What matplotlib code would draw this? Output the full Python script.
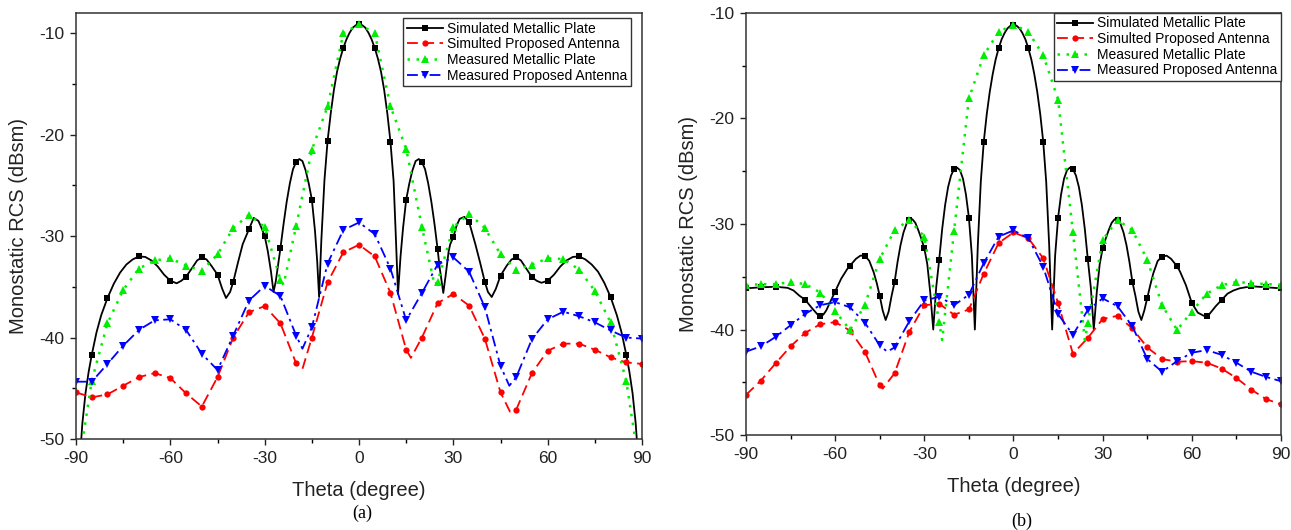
import numpy as np
import matplotlib
matplotlib.use("Agg")
import matplotlib.pyplot as plt
from matplotlib.ticker import MultipleLocator

plt.rcParams['font.family'] = ['Liberation Sans', 'DejaVu Sans']
plt.rcParams['axes.unicode_minus'] = False

# ---------------- Panel (a) ----------------
a_sim_plate_theta = [-89, -88, -87, -86, -85, -83.5, -82, -80, -78, -76, -74, -72, -70, -68, -66, -64,
                     -62, -60, -58, -56.5, -55, -53, -51.5, -50, -48.5, -47, -45, -43.5, -42.3, -41,
                     -40, -38.5, -37, -35, -33.5, -32, -31, -30, -29, -28, -27.2, -26.5, -25.5, -25,
                     -24, -23, -22, -21, -20, -19, -18, -17, -16, -15, -14, -13.3, -12.7, -12, -11,
                     -10, -9, -8, -7, -6, -5, -4, -3, -2, -1, 0,
                     1, 2, 3, 4, 5, 6, 7, 8, 9, 10, 11, 11.7, 12.4, 13.2, 14, 15, 16, 17, 18, 19, 20,
                     21, 22, 23, 24, 25, 25.6, 26.8, 27.5, 28.5, 29, 30, 31, 32, 33.5, 35, 37, 38.5,
                     40, 41, 42.2, 43.5, 45, 47, 48.5, 50, 51.5, 53, 55, 56.5, 58, 60, 62, 64, 66, 68,
                     70, 72, 74, 76, 78, 80, 82, 83.5, 85, 86, 87, 88, 89]
a_sim_plate = [-53, -48.5, -45.5, -43.4, -41.7, -39.5, -37.8, -36.1, -34.7, -33.6, -32.8, -32.3, -32.0, -32.05, -32.4, -33.0,
               -33.8, -34.4, -34.65, -34.4, -34.0, -33.1, -32.4, -32.1, -32.3, -32.9, -33.8, -35.2, -36.1, -35.5,
               -34.5, -32.6, -30.8, -29.3, -28.2, -28.5, -29.2, -30.0, -31.5, -33.5, -35.5, -34.5, -32.3, -31.2,
               -28.8, -26.6, -24.8, -23.4, -22.7, -22.4, -22.6, -23.5, -24.8, -26.4, -29.5, -32.5, -36.0, -30.5, -24.5,
               -20.6, -17.9, -15.6, -13.8, -12.5, -11.45, -10.6, -9.95, -9.45, -9.2, -9.1,
               -9.2, -9.45, -9.95, -10.6, -11.45, -12.5, -13.8, -15.6, -17.9, -20.7, -24.6, -30.0, -35.7, -32.0, -29.2, -26.4, -24.8, -23.5, -22.6, -22.4, -22.7,
               -23.4, -24.8, -26.6, -28.8, -31.3, -33.0, -35.6, -34.0, -31.5, -30.8, -30.1, -29.0, -28.3, -28.1, -28.6, -30.8, -32.6,
               -34.5, -35.5, -36.0, -35.2, -33.9, -32.9, -32.3, -32.1, -32.4, -33.1, -34.05, -34.4, -34.6, -34.4, -33.8, -33.0, -32.4, -32.05,
               -32.0, -32.3, -32.8, -33.5, -34.6, -36.0, -37.8, -39.5, -41.7, -43.4, -45.5, -48.5, -53]

a_sim_ant_theta = [-90, -85, -80, -75, -70, -65, -60, -55, -50, -45, -40, -35, -30, -25, -20, -18, -15,
                   -10, -5, 0, 5, 10, 15, 16.5, 20, 25, 30, 35, 40, 45, 48, 50, 55, 60, 65, 70, 75, 80, 85, 90]
a_sim_ant = [-45.4, -45.9, -45.6, -44.75, -43.9, -43.5, -44.0, -45.5, -46.8, -43.9, -40.0, -37.5, -36.9,
             -38.6, -42.55, -43.1, -40.0, -34.55, -31.6, -30.85, -32.0, -35.6, -41.2, -42.0, -40.0, -36.6,
             -35.7, -36.85, -40.1, -45.4, -47.3, -47.1, -43.5, -41.3, -40.6, -40.6, -41.2, -41.95, -42.45, -42.6]

a_meas_plate_theta = [-89, -87.5, -85, -80, -75, -70, -65, -60, -55, -50, -45, -40, -35, -30, -25, -24,
                      -20, -15, -10, -5, 0, 5, 10, 15, 20, 24, 25, 30, 35, 40, 45, 50, 55, 60, 65, 70,
                      75, 80, 85, 87.5, 89]
a_meas_plate = [-53, -49.3, -44.25, -38.6, -35.3, -33.2, -32.4, -32.2, -32.9, -33.4, -31.8, -29.2, -27.9,
                -29.1, -34.3, -34.8, -29.0, -21.5, -17.2, -10.0, -9.1, -10.0, -17.2, -21.4, -29.1, -34.8,
                -34.5, -29.1, -27.8, -29.2, -31.8, -33.3, -32.8, -32.2, -32.25, -33.3, -35.4, -38.5, -44.3,
                -49.35, -53]

a_meas_ant_theta = [-90, -85, -80, -75, -70, -65, -60, -55, -50, -45, -40, -35, -30, -25, -20, -18, -15,
                    -10, -5, 0, 5, 10, 15, 20, 25, 30, 35, 40, 45, 47.8, 50, 55, 60, 65, 70, 75, 80, 85, 90]
a_meas_ant = [-44.35, -44.35, -42.6, -40.8, -39.25, -38.3, -38.2, -39.25, -41.6, -43.2, -39.8, -36.35,
              -34.9, -35.9, -39.8, -41.1, -39.0, -32.7, -29.4, -28.65, -29.8, -33.2, -38.3, -35.6, -32.8,
              -32.1, -33.5, -37.0, -42.8, -44.75, -43.9, -40.15, -38.2, -37.45, -37.9, -38.5, -39.3, -40.0, -40.1]

# ---------------- Panel (b) ----------------
b_sim_plate_theta = [-90, -85, -80, -76, -74, -72, -70, -68, -66, -65, -64, -63, -62, -60, -58, -56, -55,
                     -53, -51.5, -50, -48.5, -47, -46, -45, -44, -43, -42, -41, -40, -39, -38, -37, -36,
                     -35, -34, -33, -32, -31, -30, -29, -28, -27, -26, -25, -24, -23, -22, -21, -20, -19,
                     -18, -17, -16, -15, -14, -13, -12, -11, -10, -9, -8, -7, -6, -5, -4, -3, -2, -1, 0,
                     1, 2, 3, 4, 5, 6, 7, 8, 9, 10, 11, 12, 13, 14, 15, 16, 17, 18, 19, 20, 21, 22, 23,
                     24, 25, 26, 27, 28, 29, 30, 31, 32, 33, 34, 35, 36, 37, 38, 39, 40, 41, 42, 43, 44,
                     45, 46, 47, 48.5, 50, 51.5, 53, 55, 56, 58, 60, 62, 64, 65, 66, 68, 70, 72, 74, 76,
                     80, 85, 90]
b_sim_plate = [-36.1, -36.0, -35.95, -36.05, -36.3, -36.8, -37.2, -37.9, -38.55, -38.7, -38.6, -38.2, -37.6, -36.4, -35.2, -34.3, -33.95,
               -33.3, -33.0, -33.0, -33.5, -34.6, -35.6, -36.8, -38.2, -39.1, -38.3, -36.8, -35.5, -33.6, -32.0, -30.8, -30.0,
               -29.6, -29.55, -29.9, -30.6, -31.4, -32.3, -33.8, -36.5, -40.0, -36.0, -33.4, -30.5, -28.2, -26.5, -25.4, -24.8, -24.65,
               -24.9, -25.7, -27.2, -29.4, -33.0, -40.0, -32.0, -26.0, -22.2, -19.6, -17.5, -15.8, -14.4, -13.35, -12.5, -11.9, -11.45, -11.2, -11.1,
               -11.2, -11.45, -11.9, -12.5, -13.35, -14.4, -15.8, -17.5, -19.6, -22.2, -26.0, -32.0, -40.0, -33.0, -29.4, -27.2, -25.7, -24.9, -24.65, -24.8, -25.4, -26.5, -28.2,
               -30.5, -33.35, -36.0, -40.0, -36.5, -33.8, -32.3, -31.4, -30.6, -29.9, -29.55, -29.6, -30.0, -30.8, -32.0, -33.6, -35.5, -36.8, -38.3, -39.1, -38.2,
               -37.0, -35.8, -34.7, -33.5, -33.1, -33.0, -33.3, -34.0, -34.5, -35.8, -37.5, -38.4, -38.7, -38.7, -38.5, -37.8, -37.2, -36.6, -36.3, -36.1,
               -35.9, -36.0, -36.1]

b_sim_ant_theta = [-90, -85, -80, -75, -70, -65, -60, -55, -50, -45, -44, -40, -35, -30, -25, -20, -15,
                   -10, -5, 0, 5, 10, 15, 20, 25, 30, 35, 40, 45, 50, 55, 60, 65, 70, 75, 80, 85, 90]
b_sim_ant = [-46.2, -44.85, -43.2, -41.6, -40.3, -39.5, -39.3, -40.1, -42.1, -45.3, -45.6, -44.15, -40.2,
             -37.7, -37.55, -38.6, -38.1, -34.7, -31.8, -30.8, -31.35, -33.25, -37.5, -42.3, -40.8, -39.0,
             -38.7, -39.9, -41.7, -42.8, -43.05, -43.0, -43.15, -43.7, -44.6, -45.7, -46.6, -47.1]

b_meas_plate_theta = [-90, -85, -80, -75, -70, -65, -60, -55, -50, -45, -40, -35, -30, -25, -24, -20, -15,
                      -10, -5, 0, 5, 10, 15, 20, 24, 25, 30, 35, 40, 45, 50, 55, 60, 65, 70, 75, 80, 85, 90]
b_meas_plate = [-35.8, -35.7, -35.7, -35.5, -35.7, -36.5, -38.25, -40.05, -37.7, -33.3, -30.6, -29.6,
                -31.2, -39.3, -41.0, -30.7, -18.1, -14.0, -11.8, -11.1, -11.8, -14.0, -18.2, -30.8, -41.0,
                -39.4, -31.5, -29.6, -30.6, -33.4, -37.7, -40.05, -38.3, -36.6, -35.8, -35.5, -35.6, -35.7, -35.75]

b_meas_ant_theta = [-90, -85, -80, -75, -70, -65, -60, -55, -50, -45, -42.5, -40, -35, -30, -25, -20, -15,
                    -10, -5, 0, 5, 10, 15, 20, 25, 30, 35, 40, 45, 50, 55, 60, 65, 70, 75, 80, 85, 90]
b_meas_ant = [-42.1, -41.6, -40.7, -39.6, -38.5, -37.7, -37.4, -37.9, -39.35, -41.5, -42.1, -41.7, -39.2,
              -37.25, -36.9, -37.7, -36.7, -33.7, -31.2, -30.6, -31.35, -34.05, -38.55, -40.5, -38.15,
              -37.05, -37.8, -39.7, -42.8, -44.0, -43.0, -42.2, -41.95, -42.4, -43.15, -44.0, -44.5, -44.9]

labels = ["Simulated Metallic Plate", "Simulted Proposed Antenna",
          "Measured Metallic Plate", "Measured Proposed Antenna"]


def every5(theta):
    t = np.asarray(theta, dtype=float)
    r = np.mod(t, 5)
    return list(np.nonzero(np.isclose(r, 0) | np.isclose(r, 5))[0])


def draw(ax, series):
    styles = [
        dict(color="black", linestyle="-", marker="s", markersize=3.8, linewidth=1.3),
        dict(color="#ff0000", linestyle=(0, (6, 3)), marker="o", markersize=4.5, linewidth=1.3),
        dict(color="#00ee00", linestyle=(0, (1, 2.6)), marker="^", markersize=5.2, linewidth=1.8),
        dict(color="#0000ff", linestyle=(0, (6, 2.5, 1.5, 2.5)), marker="v", markersize=5.2, linewidth=1.3),
    ]
    for (th, val), st, lab in zip(series, styles, labels):
        ax.plot(th, val, label=lab, markevery=every5(th), markeredgewidth=0, **st)
    ax.set_xlim(-90, 90)
    ax.xaxis.set_major_locator(MultipleLocator(30))
    ax.xaxis.set_minor_locator(MultipleLocator(15))
    ax.yaxis.set_major_locator(MultipleLocator(10))
    ax.yaxis.set_minor_locator(MultipleLocator(5))
    ax.tick_params(which="major", direction="out", length=4.5, width=1.0, labelsize=12.5, pad=4,
                   colors="#222222")
    ax.tick_params(which="minor", direction="out", length=3, width=1.0)
    for sp in ax.spines.values():
        sp.set_linewidth(1.1)
        sp.set_color("#333333")
    ax.set_xlabel("Theta (degree)", fontsize=14.5, labelpad=11, color="#222222")
    ax.set_ylabel("Monostatic RCS (dBsm)", fontsize=14.5, labelpad=8, color="#222222")


fig = plt.figure(figsize=(12.91, 5.30), dpi=100)
ax1 = fig.add_axes([0.0589, 0.1717, 0.4384, 0.8038])
ax2 = fig.add_axes([0.5778, 0.1792, 0.4145, 0.7963])

draw(ax1, [(a_sim_plate_theta, a_sim_plate), (a_sim_ant_theta, a_sim_ant),
           (a_meas_plate_theta, a_meas_plate), (a_meas_ant_theta, a_meas_ant)])
ax1.set_ylim(-50, -8)

draw(ax2, [(b_sim_plate_theta, b_sim_plate), (b_sim_ant_theta, b_sim_ant),
           (b_meas_plate_theta, b_meas_plate), (b_meas_ant_theta, b_meas_ant)])
ax2.set_ylim(-50, -10)

leg_kw = dict(fontsize=10, fancybox=False, framealpha=1, edgecolor="#333333",
              handlelength=2.6, handletextpad=0.3, labelspacing=0.12, borderpad=0.25)
l1 = ax1.legend(loc="upper right", bbox_to_anchor=(0.98, 0.988), borderaxespad=0, **leg_kw)
l2 = ax2.legend(loc="upper right", bbox_to_anchor=(1.0, 1.0), borderaxespad=0, **leg_kw)
for l in (l1, l2):
    l.get_frame().set_linewidth(1.0)

fig.text(0.2805, 0.032, "(a)", ha="center", va="center", fontsize=13, family="Liberation Serif")
fig.text(0.7915, 0.016, "(b)", ha="center", va="center", fontsize=13, family="Liberation Serif")

fig.savefig("out.png", dpi=100)
